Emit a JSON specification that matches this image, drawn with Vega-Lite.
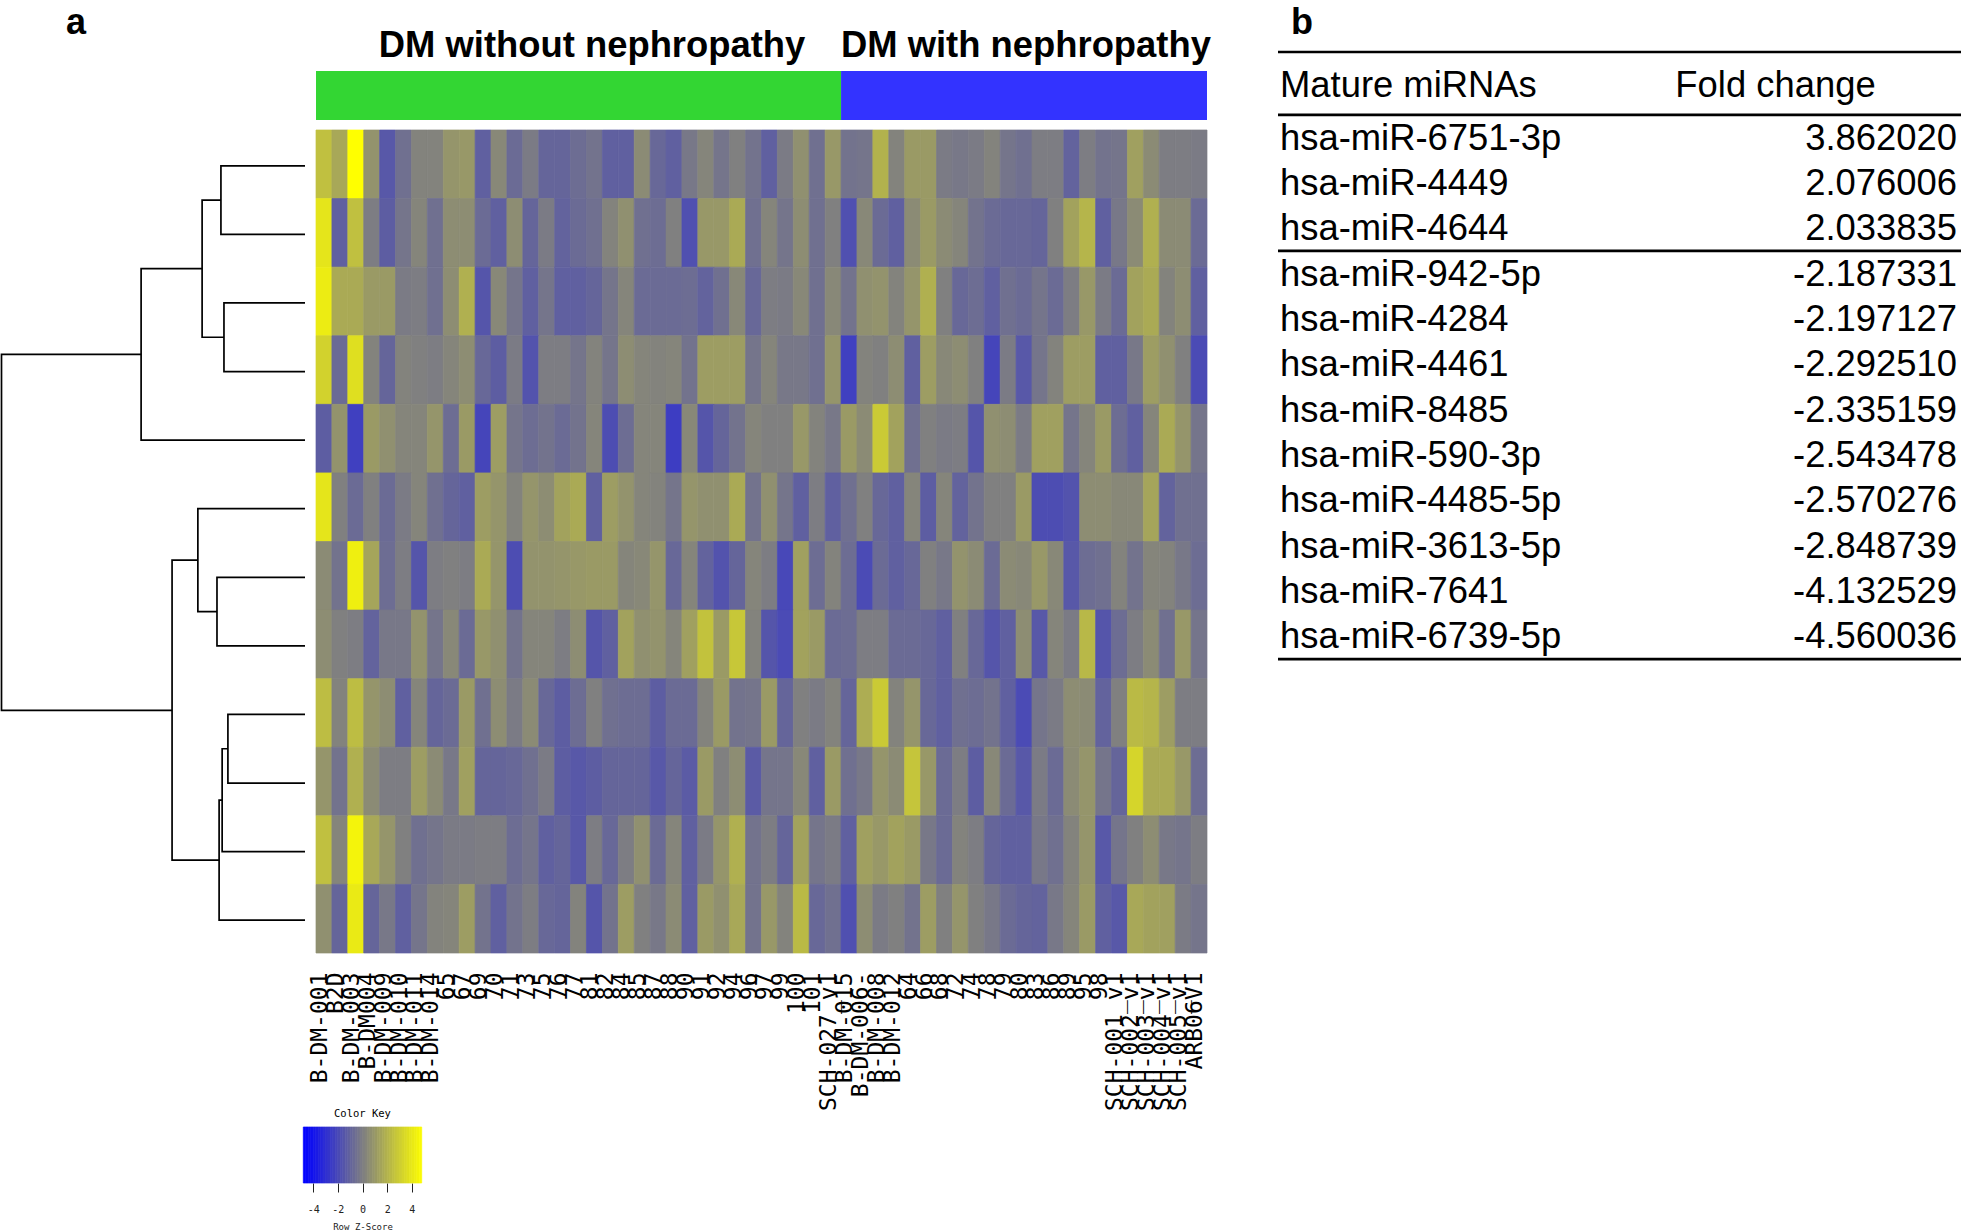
{"$schema":"https://vega.github.io/schema/vega-lite/v6.json","width":1961,"height":1232,"autosize":"none","padding":0,"background":"white","config":{"view":{"stroke":null}},"resolve":{"scale":{"x":"independent","y":"independent","color":"independent"},"axis":{"x":"independent","y":"independent"}},"layer":[
{"data":{"values":[
{"m":"n1","o":1,"h":0,"p":1},{"m":"n1","o":2,"h":27.7,"p":1},{"m":"n1","o":3,"h":27.7,"p":2},{"m":"n1","o":4,"h":0,"p":2},
{"m":"n2","o":1,"h":0,"p":3},{"m":"n2","o":2,"h":26.7,"p":3},{"m":"n2","o":3,"h":26.7,"p":4},{"m":"n2","o":4,"h":0,"p":4},
{"m":"n3","o":1,"h":27.7,"p":1.5},{"m":"n3","o":2,"h":33.9,"p":1.5},{"m":"n3","o":3,"h":33.9,"p":3.5},{"m":"n3","o":4,"h":26.7,"p":3.5},
{"m":"n4","o":1,"h":33.9,"p":2.5},{"m":"n4","o":2,"h":54,"p":2.5},{"m":"n4","o":3,"h":54,"p":5},{"m":"n4","o":4,"h":0,"p":5},
{"m":"n5","o":1,"h":0,"p":7},{"m":"n5","o":2,"h":29,"p":7},{"m":"n5","o":3,"h":29,"p":8},{"m":"n5","o":4,"h":0,"p":8},
{"m":"n6","o":1,"h":0,"p":6},{"m":"n6","o":2,"h":35.3,"p":6},{"m":"n6","o":3,"h":35.3,"p":7.5},{"m":"n6","o":4,"h":29,"p":7.5},
{"m":"n7","o":1,"h":0,"p":9},{"m":"n7","o":2,"h":25.4,"p":9},{"m":"n7","o":3,"h":25.4,"p":10},{"m":"n7","o":4,"h":0,"p":10},
{"m":"n8","o":1,"h":25.4,"p":9.5},{"m":"n8","o":2,"h":27.3,"p":9.5},{"m":"n8","o":3,"h":27.3,"p":11},{"m":"n8","o":4,"h":0,"p":11},
{"m":"n9","o":1,"h":27.3,"p":10.25},{"m":"n9","o":2,"h":28.3,"p":10.25},{"m":"n9","o":3,"h":28.3,"p":12},{"m":"n9","o":4,"h":0,"p":12},
{"m":"n10","o":1,"h":35.3,"p":6.75},{"m":"n10","o":2,"h":43.8,"p":6.75},{"m":"n10","o":3,"h":43.8,"p":11.125},{"m":"n10","o":4,"h":28.3,"p":11.125},
{"m":"n11","o":1,"h":54,"p":3.75},{"m":"n11","o":2,"h":100,"p":3.75},{"m":"n11","o":3,"h":100,"p":8.94},{"m":"n11","o":4,"h":43.8,"p":8.94}
]},"mark":{"type":"line","color":"#000000","strokeWidth":1.7,"interpolate":"linear"},"encoding":{"x":{"field":"h","type":"quantitative","scale":{"domain":[0,100],"range":[305,1.5]},"axis":null},"y":{"field":"p","type":"quantitative","scale":{"domain":[0.5,12.5],"range":[131.5,954.5],"zero":false},"axis":null},"detail":{"field":"m"},"order":{"field":"o","type":"quantitative"}}},
{"data":{"values":[
{"c":"B-DM-001","r":1,"z":2.4},{"c":"B2D","r":1,"z":1.5},{"c":"B-DM-003","r":1,"z":4.8},{"c":"B-DM004","r":1,"z":0.7},{"c":"B-DM-009","r":1,"z":-1.5},{"c":"B-DM-010","r":1,"z":-0.6},{"c":"B-DM-011","r":1,"z":0.1},{"c":"B-DM-014","r":1,"z":0.1},{"c":"65","r":1,"z":0.8},{"c":"67","r":1,"z":0.9},{"c":"69","r":1,"z":-1.2},{"c":"70","r":1,"z":0.3},{"c":"71","r":1,"z":-0.8},{"c":"73","r":1,"z":-0.2},{"c":"75","r":1,"z":-1.0},{"c":"76","r":1,"z":-1.0},{"c":"77","r":1,"z":-0.7},{"c":"81","r":1,"z":-0.5},{"c":"82","r":1,"z":-1.2},{"c":"84","r":1,"z":-1.2},{"c":"85","r":1,"z":0.4},{"c":"87","r":1,"z":-0.9},{"c":"88","r":1,"z":-1.2},{"c":"90","r":1,"z":-0.3},{"c":"91","r":1,"z":0.2},{"c":"92","r":1,"z":-0.4},{"c":"94","r":1,"z":0},{"c":"96","r":1,"z":-0.5},{"c":"97","r":1,"z":-1.2},{"c":"99","r":1,"z":-0.2},{"c":"100","r":1,"z":0.6},{"c":"101","r":1,"z":-0.6},{"c":"SCH-027_v1","r":1,"z":0.9},{"c":"B-DM-015","r":1,"z":-0.5},{"c":"B-DM-006-","r":1,"z":-0.4},{"c":"B-DM-008","r":1,"z":1.9},{"c":"B-DM-012","r":1,"z":0.1},{"c":"64","r":1,"z":1.0},{"c":"66","r":1,"z":1.0},{"c":"68","r":1,"z":-0.2},{"c":"72","r":1,"z":-0.3},{"c":"74","r":1,"z":-0.2},{"c":"78","r":1,"z":0.1},{"c":"79","r":1,"z":-0.4},{"c":"80","r":1,"z":-0.6},{"c":"83","r":1,"z":-0.1},{"c":"86","r":1,"z":-0.1},{"c":"89","r":1,"z":-1.1},{"c":"95","r":1,"z":-0.1},{"c":"98","r":1,"z":-0.5},{"c":"SCH-001_v1","r":1,"z":-0.4},{"c":"SCH-002_v1","r":1,"z":1.2},{"c":"SCH-003_v1","r":1,"z":0.4},{"c":"SCH-004_v1","r":1,"z":-0.1},{"c":"SCH-005_v1","r":1,"z":-0.1},{"c":"ARB06V1","r":1,"z":-0.2},
{"c":"B-DM-001","r":2,"z":3.8},{"c":"B2D","r":2,"z":-1.2},{"c":"B-DM-003","r":2,"z":2.4},{"c":"B-DM004","r":2,"z":-0.1},{"c":"B-DM-009","r":2,"z":-1.3},{"c":"B-DM-010","r":2,"z":-0.4},{"c":"B-DM-011","r":2,"z":0.2},{"c":"B-DM-014","r":2,"z":-0.6},{"c":"65","r":2,"z":0.5},{"c":"67","r":2,"z":0.5},{"c":"69","r":2,"z":-0.8},{"c":"70","r":2,"z":-1.2},{"c":"71","r":2,"z":0.5},{"c":"73","r":2,"z":-1.0},{"c":"75","r":2,"z":-0.2},{"c":"76","r":2,"z":-1.1},{"c":"77","r":2,"z":-0.8},{"c":"81","r":2,"z":-0.6},{"c":"82","r":2,"z":0.1},{"c":"84","r":2,"z":0.6},{"c":"85","r":2,"z":-0.6},{"c":"87","r":2,"z":-0.7},{"c":"88","r":2,"z":0},{"c":"90","r":2,"z":-1.8},{"c":"91","r":2,"z":0.9},{"c":"92","r":2,"z":0.9},{"c":"94","r":2,"z":1.6},{"c":"96","r":2,"z":-0.6},{"c":"97","r":2,"z":0.2},{"c":"99","r":2,"z":-0.4},{"c":"100","r":2,"z":0.5},{"c":"101","r":2,"z":-0.6},{"c":"SCH-027_v1","r":2,"z":0},{"c":"B-DM-015","r":2,"z":-1.8},{"c":"B-DM-006-","r":2,"z":0.3},{"c":"B-DM-008","r":2,"z":-0.8},{"c":"B-DM-012","r":2,"z":-1.2},{"c":"64","r":2,"z":0.4},{"c":"66","r":2,"z":1.0},{"c":"68","r":2,"z":0.4},{"c":"72","r":2,"z":0.2},{"c":"74","r":2,"z":-0.5},{"c":"78","r":2,"z":-0.8},{"c":"79","r":2,"z":-0.9},{"c":"80","r":2,"z":-0.9},{"c":"83","r":2,"z":-1.0},{"c":"86","r":2,"z":0},{"c":"89","r":2,"z":1.3},{"c":"95","r":2,"z":2.0},{"c":"98","r":2,"z":-1.2},{"c":"SCH-001_v1","r":2,"z":-0.3},{"c":"SCH-002_v1","r":2,"z":0.4},{"c":"SCH-003_v1","r":2,"z":1.8},{"c":"SCH-004_v1","r":2,"z":0.4},{"c":"SCH-005_v1","r":2,"z":0.4},{"c":"ARB06V1","r":2,"z":-0.8},
{"c":"B-DM-001","r":3,"z":4.1},{"c":"B2D","r":3,"z":1.6},{"c":"B-DM-003","r":3,"z":1.6},{"c":"B-DM004","r":3,"z":1.0},{"c":"B-DM-009","r":3,"z":1.0},{"c":"B-DM-010","r":3,"z":-0.2},{"c":"B-DM-011","r":3,"z":-0.1},{"c":"B-DM-014","r":3,"z":-0.6},{"c":"65","r":3,"z":0.5},{"c":"67","r":3,"z":1.8},{"c":"69","r":3,"z":-1.6},{"c":"70","r":3,"z":0.3},{"c":"71","r":3,"z":-0.4},{"c":"73","r":3,"z":-1.2},{"c":"75","r":3,"z":-0.4},{"c":"76","r":3,"z":-1.2},{"c":"77","r":3,"z":-1.2},{"c":"81","r":3,"z":-1.0},{"c":"82","r":3,"z":-0.4},{"c":"84","r":3,"z":0.2},{"c":"85","r":3,"z":-0.8},{"c":"87","r":3,"z":-0.8},{"c":"88","r":3,"z":-0.8},{"c":"90","r":3,"z":-0.7},{"c":"91","r":3,"z":-1.1},{"c":"92","r":3,"z":-0.6},{"c":"94","r":3,"z":0.3},{"c":"96","r":3,"z":-0.9},{"c":"97","r":3,"z":-0.1},{"c":"99","r":3,"z":-0.2},{"c":"100","r":3,"z":0.3},{"c":"101","r":3,"z":-0.6},{"c":"SCH-027_v1","r":3,"z":0.3},{"c":"B-DM-015","r":3,"z":-0.5},{"c":"B-DM-006-","r":3,"z":0.6},{"c":"B-DM-008","r":3,"z":0.7},{"c":"B-DM-012","r":3,"z":0.1},{"c":"64","r":3,"z":0.8},{"c":"66","r":3,"z":1.8},{"c":"68","r":3,"z":0},{"c":"72","r":3,"z":-0.9},{"c":"74","r":3,"z":-0.7},{"c":"78","r":3,"z":-1.2},{"c":"79","r":3,"z":-0.6},{"c":"80","r":3,"z":-0.8},{"c":"83","r":3,"z":-0.4},{"c":"86","r":3,"z":-0.8},{"c":"89","r":3,"z":-0.1},{"c":"95","r":3,"z":0.9},{"c":"98","r":3,"z":-0.2},{"c":"SCH-001_v1","r":3,"z":-0.8},{"c":"SCH-002_v1","r":3,"z":1.3},{"c":"SCH-003_v1","r":3,"z":1.6},{"c":"SCH-004_v1","r":3,"z":0.1},{"c":"SCH-005_v1","r":3,"z":0.5},{"c":"ARB06V1","r":3,"z":-1.2},
{"c":"B-DM-001","r":4,"z":3.1},{"c":"B2D","r":4,"z":-0.8},{"c":"B-DM-003","r":4,"z":3.6},{"c":"B-DM004","r":4,"z":0.1},{"c":"B-DM-009","r":4,"z":-1.0},{"c":"B-DM-010","r":4,"z":0.1},{"c":"B-DM-011","r":4,"z":0},{"c":"B-DM-014","r":4,"z":-0.1},{"c":"65","r":4,"z":0.2},{"c":"67","r":4,"z":0.5},{"c":"69","r":4,"z":-0.9},{"c":"70","r":4,"z":-1.3},{"c":"71","r":4,"z":-0.2},{"c":"73","r":4,"z":-1.7},{"c":"75","r":4,"z":-0.1},{"c":"76","r":4,"z":-0.1},{"c":"77","r":4,"z":-0.4},{"c":"81","r":4,"z":0.1},{"c":"82","r":4,"z":-0.4},{"c":"84","r":4,"z":0.5},{"c":"85","r":4,"z":0.2},{"c":"87","r":4,"z":0.1},{"c":"88","r":4,"z":0.2},{"c":"90","r":4,"z":-0.5},{"c":"91","r":4,"z":1.1},{"c":"92","r":4,"z":1.1},{"c":"94","r":4,"z":1.1},{"c":"96","r":4,"z":-0.4},{"c":"97","r":4,"z":0.2},{"c":"99","r":4,"z":-0.3},{"c":"100","r":4,"z":-0.3},{"c":"101","r":4,"z":-0.6},{"c":"SCH-027_v1","r":4,"z":0.8},{"c":"B-DM-015","r":4,"z":-2.4},{"c":"B-DM-006-","r":4,"z":0.1},{"c":"B-DM-008","r":4,"z":0},{"c":"B-DM-012","r":4,"z":0.5},{"c":"64","r":4,"z":-1.2},{"c":"66","r":4,"z":1.1},{"c":"68","r":4,"z":0.3},{"c":"72","r":4,"z":0.5},{"c":"74","r":4,"z":0},{"c":"78","r":4,"z":-2.2},{"c":"79","r":4,"z":-0.2},{"c":"80","r":4,"z":-1.5},{"c":"83","r":4,"z":-0.4},{"c":"86","r":4,"z":0.1},{"c":"89","r":4,"z":1.1},{"c":"95","r":4,"z":1.1},{"c":"98","r":4,"z":-1.2},{"c":"SCH-001_v1","r":4,"z":-1.2},{"c":"SCH-002_v1","r":4,"z":-0.3},{"c":"SCH-003_v1","r":4,"z":1.1},{"c":"SCH-004_v1","r":4,"z":0.6},{"c":"SCH-005_v1","r":4,"z":0},{"c":"ARB06V1","r":4,"z":-2.0},
{"c":"B-DM-001","r":5,"z":-1.3},{"c":"B2D","r":5,"z":0.7},{"c":"B-DM-003","r":5,"z":-2.4},{"c":"B-DM004","r":5,"z":1.0},{"c":"B-DM-009","r":5,"z":0.6},{"c":"B-DM-010","r":5,"z":0.2},{"c":"B-DM-011","r":5,"z":0.2},{"c":"B-DM-014","r":5,"z":0.8},{"c":"65","r":5,"z":-0.7},{"c":"67","r":5,"z":1.0},{"c":"69","r":5,"z":-2.2},{"c":"70","r":5,"z":1.1},{"c":"71","r":5,"z":-0.4},{"c":"73","r":5,"z":-0.7},{"c":"75","r":5,"z":-0.5},{"c":"76","r":5,"z":-0.8},{"c":"77","r":5,"z":-0.5},{"c":"81","r":5,"z":0.2},{"c":"82","r":5,"z":-1.9},{"c":"84","r":5,"z":-0.7},{"c":"85","r":5,"z":0.2},{"c":"87","r":5,"z":0.2},{"c":"88","r":5,"z":-2.5},{"c":"90","r":5,"z":0.3},{"c":"91","r":5,"z":-1.6},{"c":"92","r":5,"z":-1.0},{"c":"94","r":5,"z":-0.5},{"c":"96","r":5,"z":0.2},{"c":"97","r":5,"z":0},{"c":"99","r":5,"z":0},{"c":"100","r":5,"z":0.9},{"c":"101","r":5,"z":0.1},{"c":"SCH-027_v1","r":5,"z":-0.3},{"c":"B-DM-015","r":5,"z":1.0},{"c":"B-DM-006-","r":5,"z":0.4},{"c":"B-DM-008","r":5,"z":2.8},{"c":"B-DM-012","r":5,"z":1.3},{"c":"64","r":5,"z":-0.6},{"c":"66","r":5,"z":0},{"c":"68","r":5,"z":-0.2},{"c":"72","r":5,"z":-0.1},{"c":"74","r":5,"z":-1.6},{"c":"78","r":5,"z":0.6},{"c":"79","r":5,"z":0.5},{"c":"80","r":5,"z":-0.2},{"c":"83","r":5,"z":1.2},{"c":"86","r":5,"z":1.2},{"c":"89","r":5,"z":-0.4},{"c":"95","r":5,"z":0.2},{"c":"98","r":5,"z":1.0},{"c":"SCH-001_v1","r":5,"z":-0.7},{"c":"SCH-002_v1","r":5,"z":-1.2},{"c":"SCH-003_v1","r":5,"z":0.2},{"c":"SCH-004_v1","r":5,"z":1.6},{"c":"SCH-005_v1","r":5,"z":0.8},{"c":"ARB06V1","r":5,"z":-0.4},
{"c":"B-DM-001","r":6,"z":3.8},{"c":"B2D","r":6,"z":0},{"c":"B-DM-003","r":6,"z":-0.8},{"c":"B-DM004","r":6,"z":0},{"c":"B-DM-009","r":6,"z":-0.8},{"c":"B-DM-010","r":6,"z":-0.2},{"c":"B-DM-011","r":6,"z":0.2},{"c":"B-DM-014","r":6,"z":-0.6},{"c":"65","r":6,"z":-1.0},{"c":"67","r":6,"z":-1.2},{"c":"69","r":6,"z":1.1},{"c":"70","r":6,"z":0.8},{"c":"71","r":6,"z":0.1},{"c":"73","r":6,"z":0.8},{"c":"75","r":6,"z":0.5},{"c":"76","r":6,"z":1.3},{"c":"77","r":6,"z":1.6},{"c":"81","r":6,"z":-1.2},{"c":"82","r":6,"z":1.1},{"c":"84","r":6,"z":0.7},{"c":"85","r":6,"z":0.2},{"c":"87","r":6,"z":0.1},{"c":"88","r":6,"z":-0.4},{"c":"90","r":6,"z":0.8},{"c":"91","r":6,"z":0.6},{"c":"92","r":6,"z":0.6},{"c":"94","r":6,"z":1.6},{"c":"96","r":6,"z":-0.5},{"c":"97","r":6,"z":0.6},{"c":"99","r":6,"z":-0.4},{"c":"100","r":6,"z":-1.2},{"c":"101","r":6,"z":-0.1},{"c":"SCH-027_v1","r":6,"z":-1.2},{"c":"B-DM-015","r":6,"z":-0.6},{"c":"B-DM-006-","r":6,"z":0},{"c":"B-DM-008","r":6,"z":-0.9},{"c":"B-DM-012","r":6,"z":-1.2},{"c":"64","r":6,"z":0.2},{"c":"66","r":6,"z":-1.3},{"c":"68","r":6,"z":0.2},{"c":"72","r":6,"z":-1.1},{"c":"74","r":6,"z":-0.5},{"c":"78","r":6,"z":0},{"c":"79","r":6,"z":0},{"c":"80","r":6,"z":1.0},{"c":"83","r":6,"z":-1.9},{"c":"86","r":6,"z":-1.9},{"c":"89","r":6,"z":-1.7},{"c":"95","r":6,"z":0.5},{"c":"98","r":6,"z":0.5},{"c":"SCH-001_v1","r":6,"z":0.3},{"c":"SCH-002_v1","r":6,"z":0.3},{"c":"SCH-003_v1","r":6,"z":1.4},{"c":"SCH-004_v1","r":6,"z":-1.1},{"c":"SCH-005_v1","r":6,"z":-0.6},{"c":"ARB06V1","r":6,"z":-0.6},
{"c":"B-DM-001","r":7,"z":0.4},{"c":"B2D","r":7,"z":-0.5},{"c":"B-DM-003","r":7,"z":4.2},{"c":"B-DM004","r":7,"z":1.4},{"c":"B-DM-009","r":7,"z":-0.7},{"c":"B-DM-010","r":7,"z":-0.1},{"c":"B-DM-011","r":7,"z":-1.6},{"c":"B-DM-014","r":7,"z":-0.1},{"c":"65","r":7,"z":0},{"c":"67","r":7,"z":-0.1},{"c":"69","r":7,"z":1.6},{"c":"70","r":7,"z":0.8},{"c":"71","r":7,"z":-1.9},{"c":"73","r":7,"z":0.7},{"c":"75","r":7,"z":0.7},{"c":"76","r":7,"z":0.8},{"c":"77","r":7,"z":0.9},{"c":"81","r":7,"z":1.0},{"c":"82","r":7,"z":1.0},{"c":"84","r":7,"z":0.2},{"c":"85","r":7,"z":0.3},{"c":"87","r":7,"z":0.8},{"c":"88","r":7,"z":-0.9},{"c":"90","r":7,"z":0.2},{"c":"91","r":7,"z":-1.1},{"c":"92","r":7,"z":-1.7},{"c":"94","r":7,"z":-1.0},{"c":"96","r":7,"z":0.2},{"c":"97","r":7,"z":-0.1},{"c":"99","r":7,"z":-2.1},{"c":"100","r":7,"z":1.2},{"c":"101","r":7,"z":-0.7},{"c":"SCH-027_v1","r":7,"z":0.1},{"c":"B-DM-015","r":7,"z":-0.7},{"c":"B-DM-006-","r":7,"z":-2.0},{"c":"B-DM-008","r":7,"z":-0.8},{"c":"B-DM-012","r":7,"z":-1.2},{"c":"64","r":7,"z":-0.9},{"c":"66","r":7,"z":0},{"c":"68","r":7,"z":-0.3},{"c":"72","r":7,"z":0.7},{"c":"74","r":7,"z":0.4},{"c":"78","r":7,"z":-0.8},{"c":"79","r":7,"z":0.4},{"c":"80","r":7,"z":0.3},{"c":"83","r":7,"z":0.9},{"c":"86","r":7,"z":0.3},{"c":"89","r":7,"z":-1.5},{"c":"95","r":7,"z":-0.7},{"c":"98","r":7,"z":-0.6},{"c":"SCH-001_v1","r":7,"z":0.1},{"c":"SCH-002_v1","r":7,"z":-0.5},{"c":"SCH-003_v1","r":7,"z":0.2},{"c":"SCH-004_v1","r":7,"z":0.1},{"c":"SCH-005_v1","r":7,"z":-0.3},{"c":"ARB06V1","r":7,"z":-0.7},
{"c":"B-DM-001","r":8,"z":0.5},{"c":"B2D","r":8,"z":0},{"c":"B-DM-003","r":8,"z":-0.1},{"c":"B-DM004","r":8,"z":-1.1},{"c":"B-DM-009","r":8,"z":-0.3},{"c":"B-DM-010","r":8,"z":-0.3},{"c":"B-DM-011","r":8,"z":0.7},{"c":"B-DM-014","r":8,"z":-0.4},{"c":"65","r":8,"z":0.3},{"c":"67","r":8,"z":-0.8},{"c":"69","r":8,"z":0.9},{"c":"70","r":8,"z":0.6},{"c":"71","r":8,"z":-0.5},{"c":"73","r":8,"z":0.2},{"c":"75","r":8,"z":0.2},{"c":"76","r":8,"z":-0.1},{"c":"77","r":8,"z":0.5},{"c":"81","r":8,"z":-1.6},{"c":"82","r":8,"z":-1.2},{"c":"84","r":8,"z":1.3},{"c":"85","r":8,"z":0.6},{"c":"87","r":8,"z":0.7},{"c":"88","r":8,"z":0.2},{"c":"90","r":8,"z":1.2},{"c":"91","r":8,"z":2.5},{"c":"92","r":8,"z":1.0},{"c":"94","r":8,"z":2.7},{"c":"96","r":8,"z":0.1},{"c":"97","r":8,"z":-1.6},{"c":"99","r":8,"z":-2.0},{"c":"100","r":8,"z":1.3},{"c":"101","r":8,"z":1.0},{"c":"SCH-027_v1","r":8,"z":-0.8},{"c":"B-DM-015","r":8,"z":-0.7},{"c":"B-DM-006-","r":8,"z":-0.1},{"c":"B-DM-008","r":8,"z":-0.1},{"c":"B-DM-012","r":8,"z":-0.8},{"c":"64","r":8,"z":-0.8},{"c":"66","r":8,"z":-0.9},{"c":"68","r":8,"z":-1.2},{"c":"72","r":8,"z":0},{"c":"74","r":8,"z":-0.9},{"c":"78","r":8,"z":-1.6},{"c":"79","r":8,"z":-1.2},{"c":"80","r":8,"z":0.5},{"c":"83","r":8,"z":-1.5},{"c":"86","r":8,"z":0.2},{"c":"89","r":8,"z":-0.2},{"c":"95","r":8,"z":2.1},{"c":"98","r":8,"z":-1.6},{"c":"SCH-001_v1","r":8,"z":-0.7},{"c":"SCH-002_v1","r":8,"z":-0.1},{"c":"SCH-003_v1","r":8,"z":0.4},{"c":"SCH-004_v1","r":8,"z":-0.6},{"c":"SCH-005_v1","r":8,"z":0.9},{"c":"ARB06V1","r":8,"z":-0.4},
{"c":"B-DM-001","r":9,"z":2.3},{"c":"B2D","r":9,"z":0.1},{"c":"B-DM-003","r":9,"z":2.3},{"c":"B-DM004","r":9,"z":0.8},{"c":"B-DM-009","r":9,"z":0.5},{"c":"B-DM-010","r":9,"z":-1.2},{"c":"B-DM-011","r":9,"z":0.2},{"c":"B-DM-014","r":9,"z":-1.0},{"c":"65","r":9,"z":-0.8},{"c":"67","r":9,"z":1.0},{"c":"69","r":9,"z":-0.6},{"c":"70","r":9,"z":0.5},{"c":"71","r":9,"z":-0.2},{"c":"73","r":9,"z":0.4},{"c":"75","r":9,"z":-0.9},{"c":"76","r":9,"z":-1.3},{"c":"77","r":9,"z":-0.7},{"c":"81","r":9,"z":0},{"c":"82","r":9,"z":-0.6},{"c":"84","r":9,"z":-0.7},{"c":"85","r":9,"z":-0.7},{"c":"87","r":9,"z":-1.3},{"c":"88","r":9,"z":-0.8},{"c":"90","r":9,"z":-0.8},{"c":"91","r":9,"z":0.1},{"c":"92","r":9,"z":1.0},{"c":"94","r":9,"z":-0.5},{"c":"96","r":9,"z":-0.4},{"c":"97","r":9,"z":1.0},{"c":"99","r":9,"z":-1.0},{"c":"100","r":9,"z":0},{"c":"101","r":9,"z":-0.2},{"c":"SCH-027_v1","r":9,"z":0.1},{"c":"B-DM-015","r":9,"z":-1.0},{"c":"B-DM-006-","r":9,"z":1.7},{"c":"B-DM-008","r":9,"z":2.8},{"c":"B-DM-012","r":9,"z":0.1},{"c":"64","r":9,"z":0.8},{"c":"66","r":9,"z":-0.9},{"c":"68","r":9,"z":-1.2},{"c":"72","r":9,"z":-0.6},{"c":"74","r":9,"z":-0.7},{"c":"78","r":9,"z":-0.5},{"c":"79","r":9,"z":-1.2},{"c":"80","r":9,"z":-2.0},{"c":"83","r":9,"z":-0.4},{"c":"86","r":9,"z":-0.2},{"c":"89","r":9,"z":0.5},{"c":"95","r":9,"z":0.4},{"c":"98","r":9,"z":-1.1},{"c":"SCH-001_v1","r":9,"z":0},{"c":"SCH-002_v1","r":9,"z":2.2},{"c":"SCH-003_v1","r":9,"z":2.0},{"c":"SCH-004_v1","r":9,"z":1.1},{"c":"SCH-005_v1","r":9,"z":-0.1},{"c":"ARB06V1","r":9,"z":-0.1},
{"c":"B-DM-001","r":10,"z":0.8},{"c":"B2D","r":10,"z":-0.5},{"c":"B-DM-003","r":10,"z":1.8},{"c":"B-DM004","r":10,"z":0.4},{"c":"B-DM-009","r":10,"z":-0.1},{"c":"B-DM-010","r":10,"z":-0.1},{"c":"B-DM-011","r":10,"z":1.1},{"c":"B-DM-014","r":10,"z":0.4},{"c":"65","r":10,"z":-0.3},{"c":"67","r":10,"z":1.2},{"c":"69","r":10,"z":-1.0},{"c":"70","r":10,"z":-1.0},{"c":"71","r":10,"z":-0.9},{"c":"73","r":10,"z":-0.6},{"c":"75","r":10,"z":-0.2},{"c":"76","r":10,"z":-1.3},{"c":"77","r":10,"z":-1.5},{"c":"81","r":10,"z":-1.3},{"c":"82","r":10,"z":-1.0},{"c":"84","r":10,"z":-1.0},{"c":"85","r":10,"z":-1.0},{"c":"87","r":10,"z":-1.5},{"c":"88","r":10,"z":-1.0},{"c":"90","r":10,"z":-1.4},{"c":"91","r":10,"z":1.0},{"c":"92","r":10,"z":0},{"c":"94","r":10,"z":0.5},{"c":"96","r":10,"z":-1.4},{"c":"97","r":10,"z":-0.4},{"c":"99","r":10,"z":-0.4},{"c":"100","r":10,"z":0.3},{"c":"101","r":10,"z":-1.2},{"c":"SCH-027_v1","r":10,"z":1.0},{"c":"B-DM-015","r":10,"z":-0.6},{"c":"B-DM-006-","r":10,"z":-0.3},{"c":"B-DM-008","r":10,"z":0.8},{"c":"B-DM-012","r":10,"z":0.4},{"c":"64","r":10,"z":2.6},{"c":"66","r":10,"z":0.9},{"c":"68","r":10,"z":-0.8},{"c":"72","r":10,"z":-0.1},{"c":"74","r":10,"z":-1.3},{"c":"78","r":10,"z":0.3},{"c":"79","r":10,"z":-0.8},{"c":"80","r":10,"z":-1.5},{"c":"83","r":10,"z":-0.2},{"c":"86","r":10,"z":-0.8},{"c":"89","r":10,"z":0.4},{"c":"95","r":10,"z":0.8},{"c":"98","r":10,"z":-0.4},{"c":"SCH-001_v1","r":10,"z":-1.0},{"c":"SCH-002_v1","r":10,"z":3.2},{"c":"SCH-003_v1","r":10,"z":1.6},{"c":"SCH-004_v1","r":10,"z":1.6},{"c":"SCH-005_v1","r":10,"z":0.9},{"c":"ARB06V1","r":10,"z":-0.7},
{"c":"B-DM-001","r":11,"z":2.4},{"c":"B2D","r":11,"z":0.2},{"c":"B-DM-003","r":11,"z":4.4},{"c":"B-DM004","r":11,"z":1.5},{"c":"B-DM-009","r":11,"z":0.8},{"c":"B-DM-010","r":11,"z":0},{"c":"B-DM-011","r":11,"z":-0.6},{"c":"B-DM-014","r":11,"z":-0.4},{"c":"65","r":11,"z":-0.2},{"c":"67","r":11,"z":-0.2},{"c":"69","r":11,"z":-0.1},{"c":"70","r":11,"z":-0.1},{"c":"71","r":11,"z":-0.7},{"c":"73","r":11,"z":-0.4},{"c":"75","r":11,"z":-1.2},{"c":"76","r":11,"z":-1.0},{"c":"77","r":11,"z":-1.5},{"c":"81","r":11,"z":-0.1},{"c":"82","r":11,"z":-0.9},{"c":"84","r":11,"z":-0.1},{"c":"85","r":11,"z":0.6},{"c":"87","r":11,"z":-0.8},{"c":"88","r":11,"z":0.2},{"c":"90","r":11,"z":-1.2},{"c":"91","r":11,"z":-0.2},{"c":"92","r":11,"z":0.8},{"c":"94","r":11,"z":1.8},{"c":"96","r":11,"z":-0.5},{"c":"97","r":11,"z":-0.1},{"c":"99","r":11,"z":-1.0},{"c":"100","r":11,"z":1.3},{"c":"101","r":11,"z":-0.4},{"c":"SCH-027_v1","r":11,"z":-0.2},{"c":"B-DM-015","r":11,"z":-1.2},{"c":"B-DM-006-","r":11,"z":1.2},{"c":"B-DM-008","r":11,"z":0.9},{"c":"B-DM-012","r":11,"z":1.3},{"c":"64","r":11,"z":1.0},{"c":"66","r":11,"z":-0.3},{"c":"68","r":11,"z":-0.8},{"c":"72","r":11,"z":0.1},{"c":"74","r":11,"z":-0.1},{"c":"78","r":11,"z":-1.0},{"c":"79","r":11,"z":-1.2},{"c":"80","r":11,"z":-1.2},{"c":"83","r":11,"z":-0.3},{"c":"86","r":11,"z":-0.6},{"c":"89","r":11,"z":0.1},{"c":"95","r":11,"z":0.8},{"c":"98","r":11,"z":-1.5},{"c":"SCH-001_v1","r":11,"z":-0.4},{"c":"SCH-002_v1","r":11,"z":0},{"c":"SCH-003_v1","r":11,"z":0.5},{"c":"SCH-004_v1","r":11,"z":-0.3},{"c":"SCH-005_v1","r":11,"z":-0.4},{"c":"ARB06V1","r":11,"z":-0.1},
{"c":"B-DM-001","r":12,"z":0.6},{"c":"B2D","r":12,"z":-1.0},{"c":"B-DM-003","r":12,"z":4.0},{"c":"B-DM004","r":12,"z":-1.0},{"c":"B-DM-009","r":12,"z":-0.3},{"c":"B-DM-010","r":12,"z":-1.2},{"c":"B-DM-011","r":12,"z":-0.4},{"c":"B-DM-014","r":12,"z":0.1},{"c":"65","r":12,"z":0.2},{"c":"67","r":12,"z":1.1},{"c":"69","r":12,"z":-0.5},{"c":"70","r":12,"z":-1.2},{"c":"71","r":12,"z":-0.5},{"c":"73","r":12,"z":-0.1},{"c":"75","r":12,"z":-0.9},{"c":"76","r":12,"z":-1.0},{"c":"77","r":12,"z":0.1},{"c":"81","r":12,"z":-1.6},{"c":"82","r":12,"z":-0.5},{"c":"84","r":12,"z":1.1},{"c":"85","r":12,"z":0},{"c":"87","r":12,"z":-0.3},{"c":"88","r":12,"z":0.4},{"c":"90","r":12,"z":-1.2},{"c":"91","r":12,"z":1.0},{"c":"92","r":12,"z":0.6},{"c":"94","r":12,"z":1.5},{"c":"96","r":12,"z":-0.5},{"c":"97","r":12,"z":0.9},{"c":"99","r":12,"z":0.1},{"c":"100","r":12,"z":2.2},{"c":"101","r":12,"z":-0.9},{"c":"SCH-027_v1","r":12,"z":-0.6},{"c":"B-DM-015","r":12,"z":-1.8},{"c":"B-DM-006-","r":12,"z":0.5},{"c":"B-DM-008","r":12,"z":-0.2},{"c":"B-DM-012","r":12,"z":0},{"c":"64","r":12,"z":-0.5},{"c":"66","r":12,"z":1.1},{"c":"68","r":12,"z":0},{"c":"72","r":12,"z":0.8},{"c":"74","r":12,"z":0},{"c":"78","r":12,"z":-0.3},{"c":"79","r":12,"z":-0.8},{"c":"80","r":12,"z":-1.0},{"c":"83","r":12,"z":-1.1},{"c":"86","r":12,"z":-0.3},{"c":"89","r":12,"z":0.2},{"c":"95","r":12,"z":1.0},{"c":"98","r":12,"z":-1.2},{"c":"SCH-001_v1","r":12,"z":-1.5},{"c":"SCH-002_v1","r":12,"z":1.5},{"c":"SCH-003_v1","r":12,"z":1.3},{"c":"SCH-004_v1","r":12,"z":1.2},{"c":"SCH-005_v1","r":12,"z":-0.2},{"c":"ARB06V1","r":12,"z":-0.4}
]},"mark":{"type":"rect","strokeWidth":0.7},"encoding":{"x":{"field":"c","type":"nominal","scale":{"domain":["B-DM-001","B2D","B-DM-003","B-DM004","B-DM-009","B-DM-010","B-DM-011","B-DM-014","65","67","69","70","71","73","75","76","77","81","82","84","85","87","88","90","91","92","94","96","97","99","100","101","SCH-027_v1","B-DM-015","B-DM-006-","B-DM-008","B-DM-012","64","66","68","72","74","78","79","80","83","86","89","95","98","SCH-001_v1","SCH-002_v1","SCH-003_v1","SCH-004_v1","SCH-005_v1","ARB06V1"],"range":[316,1207]},"axis":{"orient":"bottom","offset":-268,"title":null,"domain":false,"ticks":false,"grid":false,"labelAngle":270,"labelAlign":"right","labelBaseline":"middle","labelFont":"DejaVu Sans Mono","labelFontSize":23,"labelColor":"#000000","labelPadding":8,"labelOffset":-4,"labelOverlap":false,"labelLimit":400,"labelFlush":false,"labelBound":false,"labelSeparation":0}},"y":{"field":"r","type":"ordinal","scale":{"range":[130,953]},"axis":null},"color":{"field":"z","type":"quantitative","scale":{"type":"linear","domain":[-4.8,0,4.8],"range":["#0000ff","#808080","#ffff00"],"interpolate":"rgb"},"legend":null},"stroke":{"field":"z","type":"quantitative","scale":{"type":"linear","domain":[-4.8,0,4.8],"range":["#0000ff","#808080","#ffff00"],"interpolate":"rgb"},"legend":null}}},
{"data":{"values":[{"group":"DM without nephropathy","start":0,"end":33},{"group":"DM with nephropathy","start":33,"end":56}]},"mark":{"type":"rect"},"encoding":{"x":{"field":"start","type":"quantitative","scale":{"domain":[0,56],"range":[316,1207]},"axis":null},"x2":{"field":"end"},"y":{"datum":"bar","type":"nominal","scale":{"range":[71,120]},"axis":null},"color":{"field":"group","type":"nominal","scale":{"domain":["DM without nephropathy","DM with nephropathy"],"range":["#33d633","#3333ff"]},"legend":null}}},
{"data":{"values":[{"group":"DM without nephropathy","pos":17.35},{"group":"DM with nephropathy","pos":44.62}]},"mark":{"type":"text","font":"Liberation Sans","fontWeight":"bold","fontSize":36.4,"color":"#000000","align":"center","baseline":"middle"},"encoding":{"x":{"field":"pos","type":"quantitative","scale":{"domain":[0,56],"range":[316,1207]},"axis":null},"y":{"datum":"title","type":"nominal","scale":{"range":[26,66]},"axis":null},"text":{"field":"group"}}},
{"data":{"values":[{"z":-4.8,"z2":-4.6},{"z":-4.6,"z2":-4.4},{"z":-4.4,"z2":-4.2},{"z":-4.2,"z2":-4.0},{"z":-4.0,"z2":-3.8},{"z":-3.8,"z2":-3.6},{"z":-3.6,"z2":-3.4},{"z":-3.4,"z2":-3.2},{"z":-3.2,"z2":-3.0},{"z":-3.0,"z2":-2.8},{"z":-2.8,"z2":-2.6},{"z":-2.6,"z2":-2.4},{"z":-2.4,"z2":-2.2},{"z":-2.2,"z2":-2.0},{"z":-2.0,"z2":-1.8},{"z":-1.8,"z2":-1.6},{"z":-1.6,"z2":-1.4},{"z":-1.4,"z2":-1.2},{"z":-1.2,"z2":-1.0},{"z":-1.0,"z2":-0.8},{"z":-0.8,"z2":-0.6},{"z":-0.6,"z2":-0.4},{"z":-0.4,"z2":-0.2},{"z":-0.2,"z2":0},{"z":0,"z2":0.2},{"z":0.2,"z2":0.4},{"z":0.4,"z2":0.6},{"z":0.6,"z2":0.8},{"z":0.8,"z2":1.0},{"z":1.0,"z2":1.2},{"z":1.2,"z2":1.4},{"z":1.4,"z2":1.6},{"z":1.6,"z2":1.8},{"z":1.8,"z2":2.0},{"z":2.0,"z2":2.2},{"z":2.2,"z2":2.4},{"z":2.4,"z2":2.6},{"z":2.6,"z2":2.8},{"z":2.8,"z2":3.0},{"z":3.0,"z2":3.2},{"z":3.2,"z2":3.4},{"z":3.4,"z2":3.6},{"z":3.6,"z2":3.8},{"z":3.8,"z2":4.0},{"z":4.0,"z2":4.2},{"z":4.2,"z2":4.4},{"z":4.4,"z2":4.6},{"z":4.6,"z2":4.8}]},"mark":{"type":"rect","strokeWidth":0.7},"encoding":{"x":{"field":"z","type":"quantitative","scale":{"domain":[-4.8,4.8],"range":[303.3,421.7],"zero":false,"nice":false},"axis":{"orient":"bottom","offset":-49,"values":[-4,-2,0,2,4],"labelExpr":"'' + datum.value","title":"Row Z-Score","titleFont":"DejaVu Sans Mono","titleFontSize":9,"titleFontWeight":"normal","titleColor":"#222222","titlePadding":8,"domain":false,"grid":false,"tickSize":9,"tickColor":"#222222","tickWidth":1,"labelFont":"DejaVu Sans Mono","labelFontSize":10,"labelColor":"#222222","labelPadding":12,"labelAngle":0,"labelFlush":false,"labelOverlap":false}},"x2":{"field":"z2"},"y":{"datum":"key","type":"nominal","scale":{"range":[1127,1183]},"axis":null},"color":{"field":"z","type":"quantitative","scale":{"type":"linear","domain":[-4.8,0,4.8],"range":["#0000ff","#808080","#ffff00"],"interpolate":"rgb"},"legend":null},"stroke":{"field":"z","type":"quantitative","scale":{"type":"linear","domain":[-4.8,0,4.8],"range":["#0000ff","#808080","#ffff00"],"interpolate":"rgb"},"legend":null}}},
{"data":{"values":[{"t":"Color Key"}]},"mark":{"type":"text","font":"DejaVu Sans Mono","fontSize":10.5,"fontWeight":"normal","color":"#000000","align":"center","baseline":"middle"},"encoding":{"x":{"datum":0,"type":"quantitative","scale":{"domain":[-4.8,4.8],"range":[303.3,421.7],"zero":false,"nice":false},"axis":null},"y":{"datum":"key title","type":"nominal","scale":{"range":[1104,1124]},"axis":null},"text":{"field":"t"}}},
{"data":{"values":[{"t":"a","pos":0.0388},{"t":"b","pos":0.664}]},"mark":{"type":"text","font":"Liberation Sans","fontWeight":"bold","fontSize":36,"color":"#000000","align":"center","baseline":"middle"},"encoding":{"x":{"field":"pos","type":"quantitative","scale":{"domain":[0,1],"range":[0,1961]},"axis":null},"y":{"datum":"panel","type":"nominal","scale":{"range":[2,44]},"axis":null},"text":{"field":"t"}}},
{"data":{"values":[{"r":-0.885,"a":0,"b":1},{"r":0.5,"a":0,"b":1},{"r":3.5,"a":0,"b":1},{"r":12.5,"a":0,"b":1}]},"mark":{"type":"rule","color":"#000000","strokeWidth":2.6},"encoding":{"x":{"field":"a","type":"quantitative","scale":{"domain":[0,1],"range":[1278,1961]},"axis":null},"x2":{"field":"b"},"y":{"field":"r","type":"quantitative","scale":{"domain":[-1,13],"range":[46.8,681.8],"zero":false,"nice":false},"axis":null}}},
{"data":{"values":[{"r":1,"m":"hsa-miR-6751-3p","f":"3.862020"},{"r":2,"m":"hsa-miR-4449","f":"2.076006"},{"r":3,"m":"hsa-miR-4644","f":"2.033835"},{"r":4,"m":"hsa-miR-942-5p","f":"-2.187331"},{"r":5,"m":"hsa-miR-4284","f":"-2.197127"},{"r":6,"m":"hsa-miR-4461","f":"-2.292510"},{"r":7,"m":"hsa-miR-8485","f":"-2.335159"},{"r":8,"m":"hsa-miR-590-3p","f":"-2.543478"},{"r":9,"m":"hsa-miR-4485-5p","f":"-2.570276"},{"r":10,"m":"hsa-miR-3613-5p","f":"-2.848739"},{"r":11,"m":"hsa-miR-7641","f":"-4.132529"},{"r":12,"m":"hsa-miR-6739-5p","f":"-4.560036"}]},"mark":{"type":"text","font":"Liberation Sans","fontSize":36.4,"color":"#000000","align":"left","baseline":"middle"},"encoding":{"x":{"datum":0,"type":"quantitative","scale":{"domain":[0,1],"range":[1280,1957]},"axis":null},"y":{"field":"r","type":"quantitative","scale":{"domain":[-1,13],"range":[47.8,682.8],"zero":false,"nice":false},"axis":null},"text":{"field":"m"}}},
{"data":{"values":[{"r":1,"m":"hsa-miR-6751-3p","f":"3.862020"},{"r":2,"m":"hsa-miR-4449","f":"2.076006"},{"r":3,"m":"hsa-miR-4644","f":"2.033835"},{"r":4,"m":"hsa-miR-942-5p","f":"-2.187331"},{"r":5,"m":"hsa-miR-4284","f":"-2.197127"},{"r":6,"m":"hsa-miR-4461","f":"-2.292510"},{"r":7,"m":"hsa-miR-8485","f":"-2.335159"},{"r":8,"m":"hsa-miR-590-3p","f":"-2.543478"},{"r":9,"m":"hsa-miR-4485-5p","f":"-2.570276"},{"r":10,"m":"hsa-miR-3613-5p","f":"-2.848739"},{"r":11,"m":"hsa-miR-7641","f":"-4.132529"},{"r":12,"m":"hsa-miR-6739-5p","f":"-4.560036"}]},"mark":{"type":"text","font":"Liberation Sans","fontSize":36.4,"color":"#000000","align":"right","baseline":"middle"},"encoding":{"x":{"datum":1,"type":"quantitative","scale":{"domain":[0,1],"range":[1280,1957]},"axis":null},"y":{"field":"r","type":"quantitative","scale":{"domain":[-1,13],"range":[47.8,682.8],"zero":false,"nice":false},"axis":null},"text":{"field":"f"}}},
{"data":{"values":[{"t":"Mature miRNAs","pos":0},{"t":"Fold change","pos":0.584}]},"mark":{"type":"text","font":"Liberation Sans","fontSize":36.4,"color":"#000000","align":"left","baseline":"middle"},"encoding":{"x":{"field":"pos","type":"quantitative","scale":{"domain":[0,1],"range":[1280,1957]},"axis":null},"y":{"datum":-0.16,"type":"quantitative","scale":{"domain":[-1,13],"range":[47.8,682.8],"zero":false,"nice":false},"axis":null},"text":{"field":"t"}}}
]}
